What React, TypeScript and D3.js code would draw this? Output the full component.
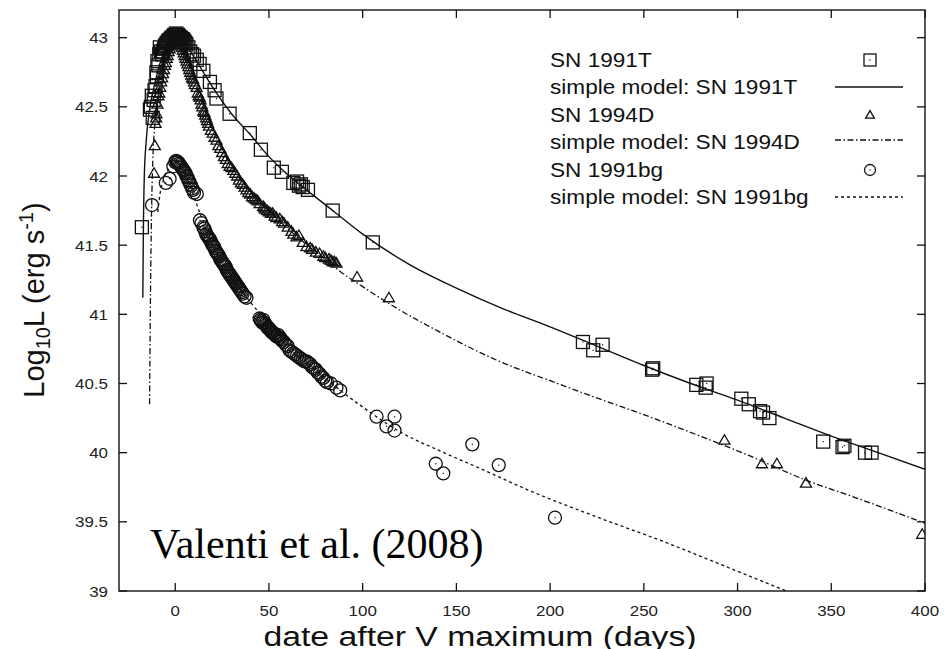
import React from 'react';
import * as d3 from 'd3';

// tick values
const xTickValues = [0, 50, 100, 150, 200, 250, 300, 350, 400];
const yTickValues = [39, 39.5, 40, 40.5, 41, 41.5, 42, 42.5, 43];

// observed points: [days after V max, log10 L]
const sn1991T: [number, number][] = [
  [-17.8, 41.63], [-13.5, 42.48], [-13, 42.5], [-12.5, 42.58], [-12, 42.42], [-11.5, 42.55],
  [-11, 42.62], [-10.5, 42.65], [-10, 42.75], [-9.8, 42.72], [-9.5, 42.83], [-9, 42.8],
  [-8.5, 42.88], [-8.2, 42.93], [-7.5, 42.9], [-7, 42.88], [-6.5, 42.9], [-6, 42.92],
  [-5.5, 42.94], [-5, 42.95], [-4.5, 42.96], [-4, 42.97], [-3.5, 42.98], [-3, 42.98],
  [-2.5, 42.99], [-2, 43.0], [-1.5, 43.0], [-1, 43.01], [-0.5, 43.02], [0, 43.02], [0.5, 43.03],
  [1, 43.02], [1.5, 43.02], [2, 43.01], [2.5, 43.0], [3, 43.0], [3.5, 42.99], [4, 42.99],
  [4.5, 42.98], [5, 42.97], [5.5, 42.96], [6, 42.95], [7, 42.93], [8, 42.9], [9, 42.88],
  [10, 42.87], [11.5, 42.84], [13, 42.81], [15, 42.76], [18.5, 42.68], [21, 42.62], [22, 42.56],
  [29, 42.45], [39.8, 42.31], [45.7, 42.19], [52.6, 42.06], [56.9, 42.03], [63, 41.95],
  [65, 41.96], [66, 41.93], [67, 41.94], [68, 41.92], [70.8, 41.9], [84, 41.75], [105.4, 41.52],
  [217.5, 40.8], [223, 40.74], [228, 40.78], [254.4, 40.6], [255, 40.61], [278, 40.49],
  [283, 40.47], [283.5, 40.5], [302, 40.39], [306, 40.35], [312, 40.3], [313.6, 40.29],
  [317, 40.25], [345.7, 40.08], [356, 40.04], [357, 40.05], [368, 40.0], [371.5, 40.0],
];

const sn1994D: [number, number][] = [
  [-11.3, 42.02], [-10.9, 42.22], [-10.5, 42.38], [-10.2, 42.42], [-10, 42.45], [-9.5, 42.52],
  [-9, 42.58], [-8.5, 42.6], [-8, 42.64], [-7.5, 42.68], [-7, 42.71], [-6.5, 42.74], [-6, 42.77],
  [-5.5, 42.8], [-5, 42.82], [-4.5, 42.85], [-4, 42.87], [-3.5, 42.9], [-3, 42.92], [-2.5, 42.94],
  [-2, 42.95], [-1.5, 42.97], [-1, 42.98], [0, 43.0], [0.5, 43.01], [1, 43.0], [1.5, 42.99],
  [2, 42.98], [2.5, 42.97], [3, 42.95], [3.5, 42.93], [4, 42.91], [4.5, 42.89], [5, 42.87],
  [5.5, 42.85], [6, 42.83], [6.5, 42.81], [7, 42.79], [7.5, 42.77], [8, 42.75], [8.5, 42.73],
  [9, 42.71], [9.5, 42.7], [10, 42.68], [10.5, 42.66], [11.4, 42.64], [12, 42.6], [12.5, 42.58],
  [13, 42.57], [13.5, 42.55], [14, 42.52], [14.5, 42.5], [15, 42.47], [15.5, 42.46], [16, 42.44],
  [16.5, 42.42], [17, 42.4], [17.5, 42.38], [18, 42.36], [19, 42.33], [20, 42.31], [21, 42.28],
  [22, 42.26], [23, 42.22], [24, 42.2], [25, 42.17], [26, 42.14], [27, 42.12], [28, 42.09],
  [29, 42.07], [30, 42.06], [31, 42.04], [32, 42.02], [33, 42.0], [34, 41.97], [35, 41.95],
  [36, 41.94], [37, 41.92], [38, 41.9], [39, 41.88], [40, 41.87], [41, 41.85], [42, 41.84],
  [43, 41.83], [44, 41.82], [45, 41.8], [46.9, 41.78], [47.5, 41.77], [48, 41.76], [49, 41.75],
  [50, 41.74], [51, 41.73], [52, 41.73], [53, 41.71], [54, 41.7], [55.8, 41.69], [57, 41.67],
  [58, 41.66], [60, 41.63], [62, 41.6], [63, 41.58], [64.7, 41.56], [66, 41.57], [68, 41.52],
  [70, 41.49], [72, 41.48], [73, 41.47], [75, 41.45], [77, 41.44], [79, 41.42], [80, 41.41],
  [82, 41.4], [83, 41.39], [84, 41.38], [85, 41.38], [86, 41.37], [97, 41.27], [114, 41.12],
  [293, 40.09], [313, 39.92], [321, 39.92], [336.5, 39.78], [398.5, 39.41],
];

const sn1991bg: [number, number][] = [
  [-12.4, 41.79], [-5, 41.95], [-3, 41.98], [-1, 42.07], [0, 42.1], [0.5, 42.11], [1, 42.1],
  [1.5, 42.1], [2, 42.09], [2.5, 42.08], [3, 42.07], [3.5, 42.06], [4, 42.05], [4.5, 42.04],
  [5, 42.03], [5.5, 42.02], [6, 42.0], [6.5, 41.99], [7, 41.97], [7.5, 41.96], [8, 41.94],
  [8.5, 41.93], [9, 41.91], [9.5, 41.9], [10, 41.88], [11.5, 41.87], [13.2, 41.68], [14, 41.66],
  [15, 41.63], [15.5, 41.62], [16, 41.6], [16.5, 41.58], [17, 41.57], [17.5, 41.56], [18, 41.55],
  [18.5, 41.54], [19, 41.53], [19.5, 41.51], [20, 41.5], [20.5, 41.49], [21, 41.48],
  [21.5, 41.46], [22, 41.45], [22.5, 41.44], [23, 41.43], [23.5, 41.42], [24, 41.4],
  [24.5, 41.39], [25, 41.38], [25.5, 41.37], [26, 41.36], [26.5, 41.35], [27, 41.34],
  [27.5, 41.32], [28, 41.31], [28.5, 41.3], [29, 41.29], [29.5, 41.28], [30, 41.27],
  [30.5, 41.26], [31, 41.25], [31.5, 41.24], [32, 41.23], [32.5, 41.22], [33, 41.21],
  [33.5, 41.2], [34, 41.19], [34.5, 41.18], [35, 41.17], [35.5, 41.16], [36, 41.15], [37, 41.13],
  [38, 41.12], [45, 40.97], [45.5, 40.96], [46, 40.95], [46.5, 40.94], [47, 40.96], [47.5, 40.94],
  [48, 40.93], [48.5, 40.92], [49, 40.91], [49.5, 40.9], [50, 40.9], [50.5, 40.89], [51, 40.88],
  [51.5, 40.87], [52, 40.87], [52.5, 40.86], [53, 40.86], [53.5, 40.85], [54, 40.84],
  [54.5, 40.84], [55, 40.85], [55.5, 40.83], [56, 40.83], [56.5, 40.82], [57, 40.81], [58, 40.8],
  [59, 40.78], [60, 40.77], [61, 40.74], [62, 40.73], [63, 40.72], [64, 40.71], [65, 40.7],
  [66, 40.69], [67, 40.68], [68, 40.67], [69, 40.66], [70, 40.66], [71, 40.65], [72, 40.64],
  [73, 40.62], [74, 40.61], [75, 40.6], [76, 40.58], [77, 40.57], [78, 40.55], [79, 40.54],
  [80, 40.52], [81, 40.51], [83, 40.5], [86, 40.47], [88, 40.45], [107.4, 40.26], [117, 40.26],
  [112.7, 40.19], [117, 40.16], [139, 39.92], [143, 39.85], [158.5, 40.06], [172.6, 39.91],
  [202.6, 39.53],
];

// simple model curves
const model1991T: [number, number][] = [
  [-17.3, 41.12], [-17, 41.6], [-16.5, 42.0], [-15.5, 42.25], [-14, 42.45], [-12, 42.6],
  [-10, 42.72], [-8, 42.82], [-5, 42.93], [-2, 42.99], [0, 43.01], [3, 43.0], [6, 42.95],
  [10, 42.86], [15, 42.75], [20, 42.64], [30, 42.45], [40, 42.3], [50, 42.14], [60, 42.01],
  [70, 41.9], [85, 41.74], [100, 41.58], [125, 41.36], [150, 41.19], [175, 41.04], [200, 40.91],
  [225, 40.77], [250, 40.63], [275, 40.5], [300, 40.38], [325, 40.25], [350, 40.12],
  [375, 40.0], [400, 39.88],
];

const model1994D: [number, number][] = [
  [-13.7, 40.35], [-13.3, 41.0], [-12.8, 41.6], [-12, 42.1], [-11, 42.35], [-9, 42.57],
  [-6, 42.79], [-3, 42.94], [0, 43.0], [3, 42.96], [6, 42.85], [10, 42.7], [15, 42.5],
  [20, 42.33], [25, 42.19], [30, 42.07], [38, 41.92], [47, 41.79], [56, 41.67], [65, 41.56],
  [77, 41.43], [88, 41.31], [100, 41.2], [115, 41.07], [140, 40.88], [173, 40.66], [200, 40.52],
  [226, 40.39], [253, 40.26], [280, 40.12], [306, 39.98], [333, 39.82], [366, 39.66],
  [400, 39.49],
];

const model1991bg: [number, number][] = [
  [-9.3, 41.74], [-8, 41.88], [-6, 41.98], [-3, 42.06], [0, 42.1], [3, 42.07], [6, 41.99],
  [10, 41.85], [14, 41.7], [20, 41.5], [30, 41.27], [40, 41.09], [50, 40.93], [60, 40.79],
  [70, 40.66], [80, 40.54], [90, 40.43], [100, 40.33], [120, 40.15], [140, 40.02], [162, 39.89],
  [190, 39.72], [226, 39.53], [260, 39.36], [295, 39.17], [326, 39.0],
];

const legendLabels = [
  'SN 1991T',
  'simple model: SN 1991T',
  'SN 1994D',
  'simple model: SN 1994D',
  'SN 1991bg',
  'simple model: SN 1991bg',
];

const sans = '"Liberation Sans", Arial, Helvetica, sans-serif';
const stretch = 1.13;
const ink = '#111';

const triPath = 'M0,-5.5L5.5,4L-5.5,4Z';

function Square({ cx, cy, s = 13 }: { cx: number; cy: number; s?: number }) {
  return (
    <g>
      <rect x={cx - s / 2} y={cy - s / 2} width={s} height={s} fill="none" stroke={ink} strokeWidth={1.3} />
      <rect x={cx - 0.6} y={cy - 0.6} width={1.2} height={1.2} fill={ink} />
    </g>
  );
}

function Triangle({ cx, cy, k = 1 }: { cx: number; cy: number; k?: number }) {
  return (
    <path d={triPath} transform={`translate(${cx},${cy}) scale(${k})`} fill="none" stroke={ink} strokeWidth={1.3 / k} />
  );
}

function Circle({ cx, cy, r = 6.5 }: { cx: number; cy: number; r?: number }) {
  return (
    <g>
      <circle cx={cx} cy={cy} r={r} fill="none" stroke={ink} strokeWidth={1.3} />
      <rect x={cx - 0.6} y={cy - 0.6} width={1.2} height={1.2} fill={ink} />
    </g>
  );
}

export default function App() {
  const width = 951;
  const height = 649;
  const margin = { top: 10, right: 26, bottom: 58, left: 119 };

  const x = d3.scaleLinear().domain([-30, 400]).range([margin.left, width - margin.right]);
  const y = d3.scaleLinear().domain([39, 43.2]).range([height - margin.bottom, margin.top]);

  const line = d3
    .line<[number, number]>()
    .x(d => x(d[0]))
    .y(d => y(d[1]))
    .curve(d3.curveMonotoneX);

  const x0 = x.range()[0];
  const x1 = x.range()[1];
  const y0 = y.range()[0];
  const y1 = y.range()[1];
  const tick = 8;

  const legendX = 550;
  const legendBase = [67, 94, 121.5, 149, 176.5, 204];
  const symX = 870;
  const lineFrom = 835;
  const lineTo = 903;

  return (
    <svg
      width={width}
      height={height}
      style={{ position: 'absolute', left: 0, top: 0, background: '#fff' }}
      fontFamily={sans}
    >
      <rect x={0} y={0} width={width} height={height} fill="#fff" />
      <defs>
        <clipPath id="plot">
          <rect x={x0} y={y1} width={x1 - x0} height={y0 - y1} />
        </clipPath>
      </defs>

      {/* model curves */}
      <g clipPath="url(#plot)" fill="none" stroke={ink}>
        <path d={line(model1991T) || ''} strokeWidth={1.4} />
        <path d={line(model1994D) || ''} strokeWidth={1.3} strokeDasharray="6,2.5,1.5,2.5" />
        <path d={line(model1991bg) || ''} strokeWidth={1.3} strokeDasharray="3,3" />
      </g>

      {/* data points */}
      <g clipPath="url(#plot)">
        {sn1991T.map((d, i) => (
          <Square key={'t' + i} cx={x(d[0])} cy={y(d[1])} />
        ))}
        {sn1994D.map((d, i) => (
          <Triangle key={'d' + i} cx={x(d[0])} cy={y(d[1])} />
        ))}
        {sn1991bg.map((d, i) => (
          <Circle key={'b' + i} cx={x(d[0])} cy={y(d[1])} />
        ))}
      </g>

      {/* frame */}
      <rect x={x0} y={y1} width={x1 - x0} height={y0 - y1} fill="none" stroke={ink} strokeWidth={1.4} />

      {/* x ticks, mirrored on top */}
      {xTickValues.map(v => (
        <g key={'xt' + v}>
          <line x1={x(v)} x2={x(v)} y1={y0} y2={y0 - tick} stroke={ink} strokeWidth={1.3} />
          <line x1={x(v)} x2={x(v)} y1={y1} y2={y1 + tick} stroke={ink} strokeWidth={1.3} />
          <text
            transform={`translate(${x(v)},616) scale(${stretch},1)`}
            textAnchor="middle"
            fontSize={15}
            fill="#222"
          >
            {v}
          </text>
        </g>
      ))}

      {/* y ticks, mirrored on right */}
      {yTickValues.map(v => (
        <g key={'yt' + v}>
          <line x1={x0} x2={x0 + tick} y1={y(v)} y2={y(v)} stroke={ink} strokeWidth={1.3} />
          <line x1={x1} x2={x1 - tick} y1={y(v)} y2={y(v)} stroke={ink} strokeWidth={1.3} />
          <text
            transform={`translate(108,${y(v) + 5.5}) scale(${stretch},1)`}
            textAnchor="end"
            fontSize={15}
            fill="#222"
          >
            {v}
          </text>
        </g>
      ))}

      {/* axis titles */}
      <text
        transform={`translate(480,646) scale(1.25,1)`}
        textAnchor="middle"
        fontSize={27}
        fill={ink}
      >
        date after V maximum (days)
      </text>
      <text transform="translate(44,300) rotate(-90)" textAnchor="middle" fontSize={29} fill={ink}>
        Log
        <tspan fontSize={20} dy={6}>10</tspan>
        <tspan dy={-6}>L (erg s</tspan>
        <tspan fontSize={20} dy={-11}>-1</tspan>
        <tspan dy={11}>)</tspan>
      </text>

      {/* legend */}
      {legendLabels.map((label, i) => (
        <text
          key={label}
          transform={`translate(${legendX},${legendBase[i]}) scale(${stretch},1)`}
          fontSize={20}
          fill={ink}
        >
          {label}
        </text>
      ))}
      <Square cx={symX} cy={60} s={12} />
      <line x1={lineFrom} x2={lineTo} y1={87} y2={87} stroke={ink} strokeWidth={1.4} />
      <Triangle cx={symX} cy={115} k={0.8} />
      <line x1={lineFrom} x2={lineTo} y1={140} y2={140} stroke={ink} strokeWidth={1.3} strokeDasharray="6,2.5,1.5,2.5" />
      <Circle cx={symX} cy={170} r={5.5} />
      <line x1={lineFrom} x2={lineTo} y1={197} y2={197} stroke={ink} strokeWidth={1.3} strokeDasharray="3,3" />

      {/* annotation */}
      <text x={150} y={558} fontFamily='"Liberation Serif", "Times New Roman", serif' fontSize={42} fill="#000">
        Valenti et al. (2008)
      </text>
    </svg>
  );
}
